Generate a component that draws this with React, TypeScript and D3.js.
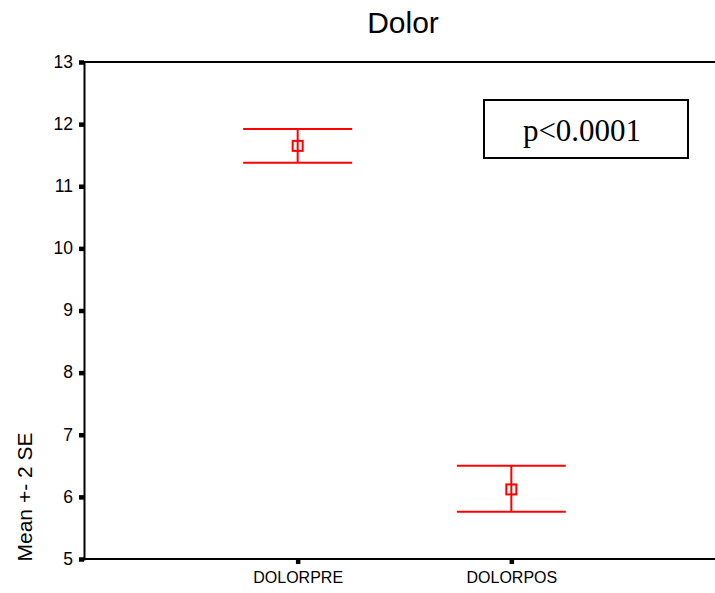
import { useEffect, useRef } from "react"
import * as d3 from "d3"

const categories = ["DOLORPRE", "DOLORPOS"]
const means = [11.65, 6.12]
const upper = [11.92, 6.5]
const lower = [11.38, 5.76]
const yTicks = [5, 6, 7, 8, 9, 10, 11, 12, 13]

const W = 715
const H = 593

export default function App() {
  const svgRef = useRef<SVGSVGElement>(null)

  useEffect(() => {
    if (!svgRef.current) return
    const svg = d3.select(svgRef.current)
    svg.selectAll("*").remove()

    const margin = { top: 62, left: 84, bottom: 34 }
    const plotRight = 725
    const bottom = H - margin.bottom

    const x = d3.scalePoint<string>().domain(categories).range([margin.left, plotRight]).padding(1)
    const y = d3.scaleLinear().domain([5, 13]).range([bottom, margin.top])
    const capHalf = x.step() * 0.255

    // title
    svg
      .append("text")
      .attr("x", 403)
      .attr("y", 33)
      .attr("text-anchor", "middle")
      .style("font-family", "Arial, 'Liberation Sans', sans-serif")
      .style("font-size", "30px")
      .style("fill", "#000")
      .text("Dolor")

    // frame lines (top + bottom run off the right edge)
    svg
      .append("line")
      .attr("x1", margin.left)
      .attr("x2", W)
      .attr("y1", y(13))
      .attr("y2", y(13))
      .attr("stroke", "#000")
      .attr("stroke-width", 2)

    const yAxis = svg.append("g").attr("transform", `translate(${margin.left},0)`)
    yAxis
      .call(d3.axisLeft(y).tickValues(yTicks).tickSize(5).tickPadding(6).tickFormat(d3.format("d")))
      .call((g) => g.select(".domain").attr("stroke", "#000").attr("stroke-width", 2))
      .call((g) => g.selectAll(".tick line").attr("stroke", "#000").attr("stroke-width", 4.5))
      .selectAll("text")
      .attr("dy", "0.3em")
      .style("font-family", "Arial, 'Liberation Sans', sans-serif")
      .style("font-size", "17.5px")
      .style("fill", "#000")

    const xAxis = svg.append("g").attr("transform", `translate(0,${bottom})`)
    xAxis
      .call(d3.axisBottom(x).tickSize(5).tickPadding(8))
      .call((g) => g.select(".domain").remove())
      .call((g) => g.selectAll(".tick line").attr("stroke", "#000").attr("stroke-width", 4.5))
      .selectAll("text")
      .style("font-family", "Arial, 'Liberation Sans', sans-serif")
      .style("font-size", "16px")
      .style("fill", "#000")

    svg
      .append("line")
      .attr("x1", margin.left - 1)
      .attr("x2", W)
      .attr("y1", bottom)
      .attr("y2", bottom)
      .attr("stroke", "#000")
      .attr("stroke-width", 2)

    // y label
    svg
      .append("text")
      .attr("transform", `translate(32,497) rotate(-90)`)
      .attr("text-anchor", "middle")
      .style("font-family", "Arial, 'Liberation Sans', sans-serif")
      .style("font-size", "21px")
      .style("fill", "#000")
      .text("Mean +- 2 SE")

    // error bars
    const bars = svg
      .selectAll(".bar")
      .data(categories)
      .enter()
      .append("g")
      .attr("class", "bar")
      .attr("stroke", "#ff0000")
      .attr("stroke-width", 2)
      .attr("fill", "none")

    bars
      .append("line")
      .attr("x1", (d) => x(d)!)
      .attr("x2", (d) => x(d)!)
      .attr("y1", (d, i) => y(upper[i]))
      .attr("y2", (d, i) => y(lower[i]))

    bars
      .append("line")
      .attr("x1", (d) => x(d)! - capHalf)
      .attr("x2", (d) => x(d)! + capHalf)
      .attr("y1", (d, i) => y(upper[i]))
      .attr("y2", (d, i) => y(upper[i]))

    bars
      .append("line")
      .attr("x1", (d) => x(d)! - capHalf)
      .attr("x2", (d) => x(d)! + capHalf)
      .attr("y1", (d, i) => y(lower[i]))
      .attr("y2", (d, i) => y(lower[i]))

    bars
      .append("rect")
      .attr("x", (d) => x(d)! - 5)
      .attr("y", (d, i) => y(means[i]) - 5)
      .attr("width", 10)
      .attr("height", 10)

    // p-value box
    svg
      .append("rect")
      .attr("x", 484)
      .attr("y", 100)
      .attr("width", 204)
      .attr("height", 58)
      .attr("fill", "#fff")
      .attr("stroke", "#000")
      .attr("stroke-width", 2)

    svg
      .append("text")
      .attr("x", 582)
      .attr("y", 141)
      .attr("text-anchor", "middle")
      .style("font-family", "'Liberation Serif', 'Times New Roman', serif")
      .style("font-size", "31px")
      .style("fill", "#000")
      .text("p<0.0001")
  }, [])

  return (
    <div style={{ position: "absolute", left: 0, top: 0 }}>
      <svg ref={svgRef} width={W} height={H} style={{ display: "block", background: "#fff" }}></svg>
    </div>
  )
}
